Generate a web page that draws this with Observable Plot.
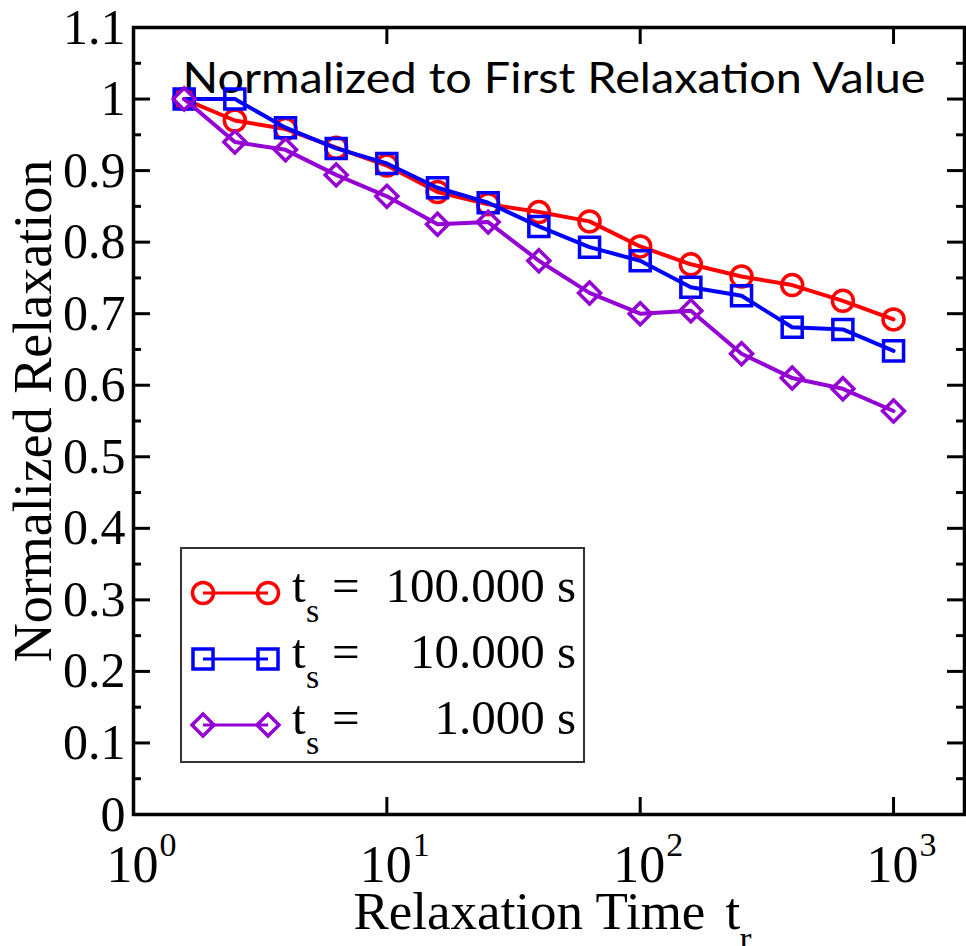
<!DOCTYPE html>
<html><head><meta charset="utf-8">
<script src="https://cdn.jsdelivr.net/npm/d3@7"></script>
<script src="https://cdn.jsdelivr.net/npm/@observablehq/plot@0.6"></script>
<style>html,body{margin:0;padding:0;background:#fff;overflow:hidden} #chart{width:966px;height:946px;overflow:hidden}</style>
</head><body><div id="chart"></div>
<script>
// ---- data ----
const relaxTime = [1.585, 2.512, 3.981, 6.310, 10.0, 15.85, 25.12, 39.81, 63.10, 100.0, 158.5, 251.2, 398.1, 631.0, 1000];
const ts100 = [1.000, 0.970, 0.958, 0.932, 0.907, 0.870, 0.853, 0.842, 0.829, 0.794, 0.769, 0.752, 0.740, 0.718, 0.692];
const ts10  = [1.000, 1.000, 0.960, 0.931, 0.910, 0.876, 0.855, 0.822, 0.793, 0.774, 0.737, 0.725, 0.681, 0.678, 0.648];
const ts1   = [1.000, 0.940, 0.929, 0.894, 0.864, 0.825, 0.828, 0.774, 0.729, 0.700, 0.704, 0.644, 0.610, 0.595, 0.564];
const seriesValues = [ts100, ts10, ts1];
const seriesNames = ["100.000", "10.000", "1.000"];
const seriesColors = ["#ff0000", "#0000ff", "#9400d3"];
const yMajorTicks = [0, 0.1, 0.2, 0.3, 0.4, 0.5, 0.6, 0.7, 0.8, 0.9, 1.0, 1.1];
const yMinorTicks = [0.05, 0.15, 0.25, 0.35, 0.45, 0.55, 0.65, 0.75, 0.85, 0.95, 1.05];
const xMajorTicks = [1, 10, 100, 1000];
const xTickExponents = ["0", "1", "2", "3"];
const titleText = "Normalized to First Relaxation Value";
const xLabel = "Relaxation Time";
const yLabel = "Normalized Relaxation";

// ---- layout ----
const W = 966, H = 946, ML = 133, MR = 2, MT = 27, MB = 132;
const FW = W - ML - MR, FH = H - MT - MB;
const serif = "Liberation Serif, Times New Roman, serif";
const symbolTypes = [d3.symbolCircle, d3.symbolSquare, d3.symbolDiamond2];
const symbolR = [10.5, 11.3, 9.9];

const rows = seriesValues.map((vals, s) => vals.map((v, i) => ({t: relaxTime[i], v, s})));

const marks = [
  // ticks (inward)
  Plot.ruleX(xMajorTicks, {x: d => d, insetTop: FH - 17, stroke: "black", strokeWidth: 3}),
  Plot.ruleX(xMajorTicks, {x: d => d, insetBottom: FH - 17, stroke: "black", strokeWidth: 3}),
  Plot.ruleY(yMajorTicks, {y: d => d, insetRight: FW - 17, stroke: "black", strokeWidth: 3}),
  Plot.ruleY(yMinorTicks, {y: d => d, insetRight: FW - 8, stroke: "black", strokeWidth: 3}),
  Plot.ruleY(yMajorTicks, {y: d => d, insetLeft: FW - 17, stroke: "black", strokeWidth: 3}),
  Plot.ruleY(yMinorTicks, {y: d => d, insetLeft: FW - 8, stroke: "black", strokeWidth: 3}),
  Plot.frame({stroke: "black", strokeWidth: 3.5}),
  // tick labels
  Plot.text(yMajorTicks, {y: d => d, text: d => String(+d.toFixed(1)), frameAnchor: "left", textAnchor: "end", lineAnchor: "middle", dx: -8, fontSize: 50, fontFamily: serif, fill: "black"}),
  Plot.text(xMajorTicks, {x: d => d, text: () => "10", frameAnchor: "bottom", textAnchor: "end", lineAnchor: "bottom", dx: 25, dy: 67, fontSize: 52, fontFamily: serif, fill: "black"}),
  Plot.text(xMajorTicks, {x: d => d, text: (d, i) => xTickExponents[i], frameAnchor: "bottom", textAnchor: "start", lineAnchor: "bottom", dx: 26, dy: 41, fontSize: 34, fontFamily: serif, fill: "black"}),
  // axis titles
  Plot.text([xLabel], {frameAnchor: "bottom-left", textAnchor: "start", lineAnchor: "bottom", dx: 220, dy: 114, fontSize: 53, fontFamily: serif, fill: "black"}),
  Plot.text(["t"], {frameAnchor: "bottom-left", textAnchor: "start", lineAnchor: "bottom", dx: 592, dy: 114, fontSize: 53, fontFamily: serif, fill: "black"}),
  Plot.text(["r"], {frameAnchor: "bottom-left", textAnchor: "start", lineAnchor: "bottom", dx: 606, dy: 136, fontSize: 36, fontFamily: serif, fill: "black"}),
  Plot.text([yLabel], {frameAnchor: "left", rotate: -90, textAnchor: "middle", lineAnchor: "middle", dx: -100, dy: -10, fontSize: 54, fontFamily: serif, fill: "black"}),
  // title
  Plot.text([titleText], {frameAnchor: "top-left", textAnchor: "start", lineAnchor: "bottom", dx: 49, dy: 65, fontSize: 43, fontFamily: "Lato, Noto Sans, sans-serif", fill: "black"})
];
rows.forEach((r, s) => {
  marks.push(Plot.line(r, {x: "t", y: "v", stroke: seriesColors[s], strokeWidth: 4}));
  marks.push(Plot.dot(r, {x: "t", y: "v", stroke: seriesColors[s], fill: "none", strokeWidth: 3.5, r: symbolR[s], symbol: symbolTypes[s]}));
});

const plot = Plot.plot({
  width: W, height: H,
  marginLeft: ML, marginRight: MR, marginTop: MT, marginBottom: MB,
  x: {type: "log", domain: [1, 1906], axis: null},
  y: {domain: [0, 1.1], axis: null},
  style: {background: "white"},
  marks
});
document.getElementById("chart").appendChild(plot);

const svg = d3.select(plot);
svg.selectAll("text").filter(function() { return this.textContent === titleText; })
  .attr("textLength", 743).attr("lengthAdjust", "spacingAndGlyphs");

// ---- legend ----
const lg = svg.append("g");
lg.append("rect").attr("x", 181).attr("y", 548).attr("width", 403).attr("height", 214)
  .attr("fill", "white").attr("stroke", "#333").attr("stroke-width", 2);
seriesNames.forEach((name, i) => {
  const cy = 593 + 66 * i;
  lg.append("line").attr("x1", 203).attr("x2", 268).attr("y1", cy).attr("y2", cy)
    .attr("stroke", seriesColors[i]).attr("stroke-width", 3);
  [203, 268].forEach(cx => {
    lg.append("path").attr("d", d3.symbol(symbolTypes[i], symbolR[i] * symbolR[i] * Math.PI)())
      .attr("transform", `translate(${cx},${cy})`).attr("fill", "none")
      .attr("stroke", seriesColors[i]).attr("stroke-width", 3.5);
  });
  const txt = (x, y, s, size, anchor) => lg.append("text").attr("x", x).attr("y", y).text(s)
    .attr("font-family", serif).attr("font-size", size).attr("text-anchor", anchor).attr("fill", "black");
  txt(292, cy + 9, "t", 49, "start");
  txt(306, cy + 29, "s", 34, "start");
  txt(332, cy + 9, "=", 49, "start");
  txt(576, cy + 9, name + " s", 49, "end");
});
</script>
</body></html>
